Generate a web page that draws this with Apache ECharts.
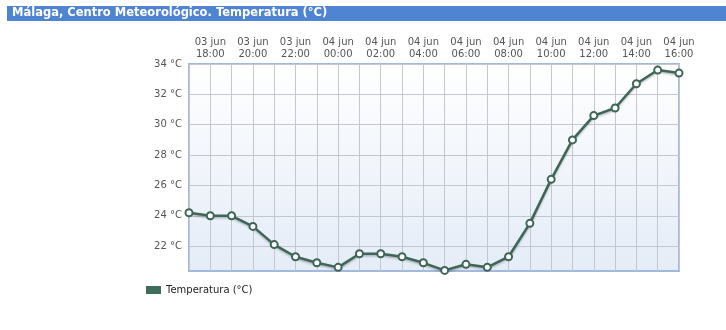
<!DOCTYPE html>
<html>
<head>
<meta charset="utf-8">
<script src="https://cdn.jsdelivr.net/npm/echarts@6/dist/echarts.min.js"></script>
<style>html,body{margin:0;padding:0;background:#fff;}#c{width:726px;height:330px;}</style>
</head>
<body>
<div id="c"></div>
<script>
const titleText = 'Málaga, Centro Meteorológico. Temperatura (°C)';
const seriesName = 'Temperatura (°C)';
const days = ['03 jun','03 jun','03 jun','03 jun','03 jun','03 jun','03 jun',
  '04 jun','04 jun','04 jun','04 jun','04 jun','04 jun','04 jun','04 jun','04 jun','04 jun','04 jun','04 jun','04 jun','04 jun','04 jun','04 jun','04 jun'];
const hours = ['17:00','18:00','19:00','20:00','21:00','22:00','23:00',
  '00:00','01:00','02:00','03:00','04:00','05:00','06:00','07:00','08:00','09:00','10:00','11:00','12:00','13:00','14:00','15:00','16:00'];
const temps = [24.2,24.0,24.0,23.3,22.1,21.3,20.9,20.6,21.5,21.5,21.3,20.9,20.4,20.8,20.6,21.3,23.5,26.4,29.0,30.6,31.1,32.7,33.6,33.4];
const yTicks = [22,24,26,28,30,32,34];
const yMin = 20.36, yMax = 34;

const categories = days.map((d,i)=> d + '\n' + hours[i]);
const font = 'DejaVu Sans';
const chart = echarts.init(document.getElementById('c'));
chart.setOption({
  animation: false,
  backgroundColor: '#ffffff',
  graphic: [
    {type:'rect', left:7, top:6, shape:{width:719, height:15}, style:{fill:'#4f84d2'}, z:0},
    {type:'text', left:12, top:7, style:{text:titleText, fill:'#ffffff', font:'bold 11.5px "DejaVu Sans"'}, z:1}
  ],
  legend: {
    left: 146, top: 285, padding: 0,
    itemWidth: 15, itemHeight: 8,
    data: [{name: seriesName, icon: 'rect'}],
    itemStyle: {color:'#3d6e5b', borderWidth:0},
    lineStyle: {width: 8, color:'#3d6e5b'},
    textStyle: {fontFamily: font, fontSize: 10, color:'#222'}
  },
  grid: {
    left: 189, right: 47, top: 64, bottom: 59,
    show: true,
    borderColor: '#a2b9dd', borderWidth: 2,
    backgroundColor: {type:'linear', x:0, y:0, x2:0, y2:1, colorStops:[{offset:0, color:'#ffffff'},{offset:1, color:'#e4ecf7'}]}
  },
  xAxis: {
    type: 'category',
    position: 'top',
    boundaryGap: false,
    data: categories,
    axisLine: {show:false},
    axisTick: {show:false},
    axisLabel: {
      interval: function(i){ return i % 2 === 1; },
      fontFamily: font, fontSize: 10, color:'#555', lineHeight: 12, margin: 4
    },
    splitLine: {show:true, interval: 0, lineStyle:{color:'#c4c7d0', width:1}}
  },
  yAxis: {
    type: 'value',
    min: yMin, max: yMax,
    axisLine: {show:false},
    axisTick: {show:false, customValues: yTicks},
    axisLabel: {
      customValues: yTicks,
      formatter: function(v){ return Math.round(v) + ' °C'; },
      fontFamily: font, fontSize: 10, color:'#555', margin: 7
    },
    splitLine: {show:true, lineStyle:{color:'#c4c7d0', width:1}}
  },
  series: [{
    name: seriesName,
    type: 'line',
    data: temps,
    symbol: 'circle',
    symbolSize: 7,
    showAllSymbol: true,
    lineStyle: {color:'#3d6656', width:2.5, shadowColor:'rgba(0,0,0,0.25)', shadowBlur:2, shadowOffsetY:1.5},
    itemStyle: {color:'#ffffff', borderColor:'#3d6656', borderWidth:2},
    emphasis: {disabled:true}
  }]
});
</script>
</body>
</html>
